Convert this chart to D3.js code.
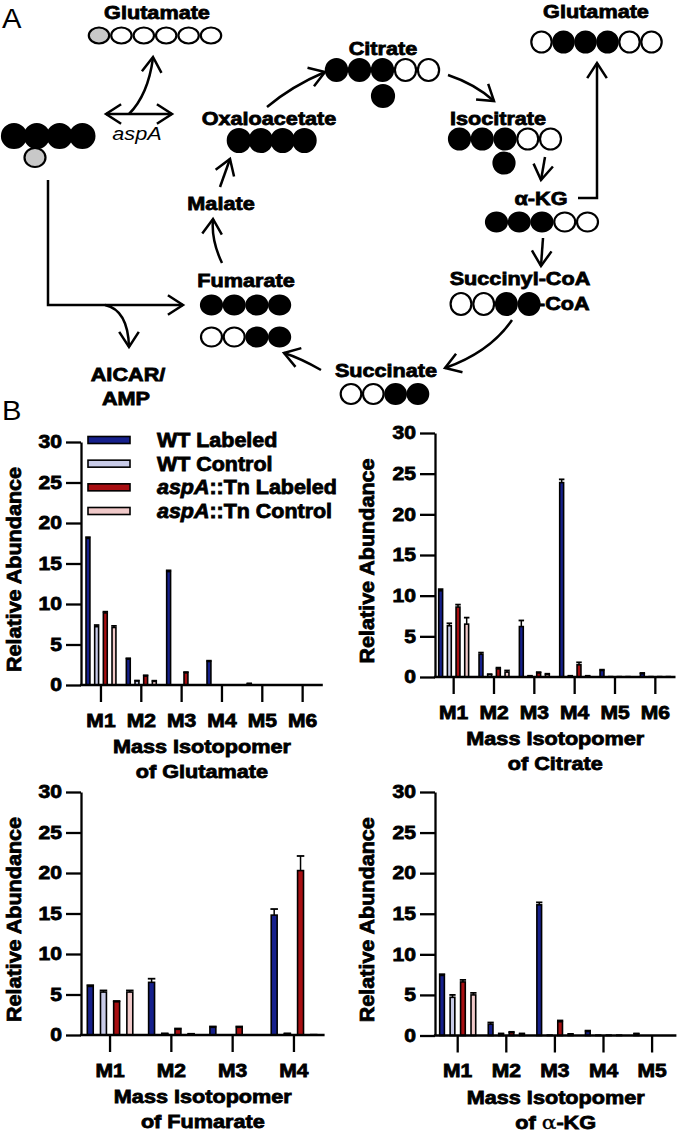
<!DOCTYPE html>
<html><head><meta charset="utf-8">
<script src="https://cdn.jsdelivr.net/npm/d3@7/dist/d3.min.js"></script>
<style>
body{margin:0;background:#fff;}
svg text{font-family:"Liberation Sans",Arial,sans-serif;}
</style></head><body>
<svg id="fig" width="677" height="1146"></svg>
<script>
// ---------------- DATA ----------------
const seriesNames = ["WT Labeled","WT Control","aspA::Tn Labeled","aspA::Tn Control"];
const seriesColors = ["#16208c","#c8cbe8","#a80f12","#f0c9c9"];
const yTicks = [0,5,10,15,20,25,30];

const glutamateIsotopomers = ["M1","M2","M3","M4","M5","M6"];
const glutamateWTLabeled   = [18.1, 3.2, 14.0, 2.9, 0.15, 0];
const glutamateWTControl   = [7.2, 0.5, 0, 0, 0, 0];
const glutamateAspLabeled  = [8.9, 1.1, 1.5, 0, 0, 0];
const glutamateAspControl  = [7.1, 0.45, 0, 0, 0, 0];
const glutamateWTLabeledErr  = [0.15, 0.1, 0.15, 0.1, 0.05, 0];
const glutamateWTControlErr  = [0.2, 0.05, 0, 0, 0, 0];
const glutamateAspLabeledErr = [0.15, 0.1, 0.1, 0, 0, 0];
const glutamateAspControlErr = [0.2, 0.08, 0, 0, 0, 0];

const citrateIsotopomers = ["M1","M2","M3","M4","M5","M6"];
const citrateWTLabeled   = [10.6, 2.8, 6.2, 23.9, 0.8, 0.4];
const citrateWTControl   = [6.3, 0.3, 0.1, 0.1, 0.05, 0.05];
const citrateAspLabeled  = [8.6, 1.0, 0.5, 1.5, 0.05, 0.05];
const citrateAspControl  = [6.5, 0.6, 0.3, 0.1, 0.05, 0.05];
const citrateWTLabeledErr  = [0.2, 0.2, 0.75, 0.4, 0.1, 0.1];
const citrateWTControlErr  = [0.3, 0.05, 0.05, 0.05, 0, 0];
const citrateAspLabeledErr = [0.3, 0.15, 0.1, 0.3, 0, 0];
const citrateAspControlErr = [0.8, 0.2, 0.1, 0.05, 0, 0];

const fumarateIsotopomers = ["M1","M2","M3","M4"];
const fumarateWTLabeled   = [6.0, 6.5, 0.95, 14.8];
const fumarateWTControl   = [5.3, 0.15, 0, 0.15];
const fumarateAspLabeled  = [4.1, 0.7, 0.95, 20.3];
const fumarateAspControl  = [5.3, 0.1, 0, 0.05];
const fumarateWTLabeledErr  = [0.15, 0.45, 0.1, 0.75];
const fumarateWTControlErr  = [0.2, 0.05, 0, 0.05];
const fumarateAspLabeledErr = [0.1, 0.1, 0.1, 1.8];
const fumarateAspControlErr = [0.2, 0.05, 0, 0];

const akgIsotopomers = ["M1","M2","M3","M4","M5"];
const akgWTLabeled   = [7.4, 1.4, 16.1, 0.5, 0.2];
const akgWTControl   = [4.7, 0.2, 0.05, 0.05, 0];
const akgAspLabeled  = [6.6, 0.35, 1.7, 0.05, 0];
const akgAspControl  = [5.0, 0.2, 0.15, 0.05, 0];
const akgWTLabeledErr  = [0.15, 0.2, 0.3, 0.1, 0.05];
const akgWTControlErr  = [0.3, 0.05, 0, 0, 0];
const akgAspLabeledErr = [0.25, 0.1, 0.15, 0, 0];
const akgAspControlErr = [0.25, 0.05, 0.05, 0, 0];

// ---------------- HELPERS ----------------
const svg = d3.select("#fig");
const SX = 1.17;
const BOLD_STROKE = 0.8;

function label(g, str, x, y, o = {}) {
  const bold = (o.weight || "bold") === "bold";
  const t = g.append("text")
    .attr("transform", `translate(${x},${y}) scale(${o.sx || SX},1)`)
    .attr("text-anchor", o.anchor || "middle")
    .attr("font-size", o.size || 18.5)
    .attr("font-weight", o.weight || "bold")
    .attr("fill", "#000");
  if (bold) t.attr("stroke", "#000").attr("stroke-width", BOLD_STROKE);
  if (o.italic) t.attr("font-style", "italic");
  if (Array.isArray(str)) {
    str.forEach(p => {
      const ts = t.append("tspan").text(p.t);
      if (p.italic) ts.attr("font-style", "italic");
      if (p.family) ts.attr("font-family", p.family);
      if (p.weight) ts.attr("font-weight", p.weight).attr("stroke-width", 0.3);
    });
  } else t.text(str);
  return t;
}

function head(g, tx, ty, dx, dy, L = 18, ang = 33) {
  const a = Math.atan2(dy, dx), r = ang * Math.PI / 180;
  const p1 = [tx - L * Math.cos(a - r), ty - L * Math.sin(a - r)];
  const p2 = [tx - L * Math.cos(a + r), ty - L * Math.sin(a + r)];
  g.append("path").attr("d", `M${p1}L${tx},${ty}L${p2}`)
    .attr("fill", "none").attr("stroke", "#000").attr("stroke-width", 2.5)
    .attr("stroke-linejoin", "miter");
}

function arrow(g, d, tip, from, both) {
  g.append("path").attr("d", d).attr("fill", "none")
    .attr("stroke", "#000").attr("stroke-width", 2.5);
  head(g, tip[0], tip[1], tip[0] - from[0], tip[1] - from[1]);
  if (both) head(g, both.tip[0], both.tip[1], both.tip[0] - both.from[0], both.tip[1] - both.from[1]);
}

// ---------------- PANEL A ----------------
const A = svg.append("g");
label(A, "A", 2, 28, {anchor: "start", size: 27, weight: "normal", sx: 1.08});
label(A, "B", 2, 420, {anchor: "start", size: 27, weight: "normal", sx: 1.08});

const fills = {b: "#000", w: "#fff", g: "#c8c8c8"};
const rows = [
  {x: 99,    y: 35.5, dx: 22.4, rx: 10.2, ry: 8.0,  p: "gwwwww"},
  {x: 14,    y: 136,  dx: 22.8, rx: 12,   ry: 12,   p: "bbbb"},
  {x: 35,    y: 157.5,dx: 0,    rx: 10.5, ry: 9.5,  p: "g"},
  {x: 239,   y: 140.5,dx: 21.8, rx: 11.2, ry: 11.5, p: "bbbb"},
  {x: 336.5, y: 70,   dx: 23,   rx: 10.6, ry: 11,   p: "bbbww"},
  {x: 383,   y: 96,   dx: 0,    rx: 11,   ry: 11,   p: "b"},
  {x: 459.5, y: 139,  dx: 22.75,rx: 10.5, ry: 10.5, p: "bbbww"},
  {x: 504,   y: 163,  dx: 0,    rx: 10.5, ry: 10.5, p: "b"},
  {x: 541.5, y: 42,   dx: 22,   rx: 10.2, ry: 10.5, p: "wbbbww"},
  {x: 496.5, y: 222,  dx: 22.75,rx: 10.5, ry: 9.5,  p: "bbbww"},
  {x: 461,   y: 304,  dx: 22.7, rx: 10.4, ry: 11,   p: "wwbb"},
  {x: 211.5, y: 305,  dx: 22.7, rx: 10.5, ry: 9.5,  p: "bbbb"},
  {x: 211.5, y: 337,  dx: 22.7, rx: 10.5, ry: 9.5,  p: "wwbb"},
  {x: 351,   y: 394,  dx: 22.3, rx: 10.3, ry: 10,   p: "wwbb"}
];
rows.forEach(r => {
  A.selectAll(null).data(r.p.split("")).join("ellipse")
    .attr("cx", (c, i) => r.x + i * r.dx).attr("cy", r.y)
    .attr("rx", r.rx).attr("ry", r.ry)
    .attr("fill", c => fills[c]).attr("stroke", "#000").attr("stroke-width", 2.2);
});

// diagram texts
label(A, "Glutamate", 157, 19);
label(A, "Glutamate", 596, 18);
label(A, "aspA", 137, 140, {weight: "normal", italic: true});
label(A, "Oxaloacetate", 269, 125);
label(A, "Citrate", 383, 55);
label(A, "Isocitrate", 498, 125);
label(A, "α-KG", 541, 205);
label(A, "Succinyl-CoA", 520, 285);
label(A, "-CoA", 538, 310, {anchor: "start"});
label(A, "Malate", 221, 210);
label(A, "Fumarate", 246, 287);
label(A, "Succinate", 386, 377);
label(A, "AICAR/", 128, 381);
label(A, "AMP", 126, 405);

// arrows
arrow(A, "M106,114L172,114", [172,114], [160,114], {tip: [106,114], from: [118,114]});
arrow(A, "M129,114Q148,95 153,58", [153,57], [151,80]);
arrow(A, "M267,107Q292,86 325,72", [325,72], [305,79]);
arrow(A, "M448,75Q475,84 494,101", [494,101], [480,90]);
arrow(A, "M545,157L541,180", [541,180], [544,160]);
arrow(A, "M578,198L597,198L597,63", [597,63], [597,90]);
arrow(A, "M543,238L541,266", [541,266], [542,245]);
arrow(A, "M512,320Q490,352 445,368", [445,368], [468,360]);
arrow(A, "M321,370Q300,358 284,353", [284,353], [300,358]);
arrow(A, "M222,263Q211,240 213,219", [213,219], [212,235]);
arrow(A, "M220,187L230,159", [230,159], [226,170]);
arrow(A, "M48,180L48,305L183,305", [183,305], [160,305]);
arrow(A, "M105,305Q128,310 129,347", [129,347], [129,330]);

// ---------------- PANEL B CHARTS ----------------
function boldText(sel, size) {
  sel.attr("font-family", null).attr("font-size", size).attr("font-weight", "bold")
    .attr("fill", "#000").attr("stroke", "#000").attr("stroke-width", BOLD_STROKE);
}

function drawChart(c) {
  const g = svg.append("g");
  const x = d3.scaleBand().domain(c.cats).range([c.xStart, c.xEnd]).padding(0);
  const y = d3.scaleLinear().domain([0, 30]).range([c.yBottom, c.yTop]);
  const step = x.bandwidth() * 0.215;
  const xi = d3.scaleBand().domain(seriesNames).range([-2 * step, 2 * step])
    .paddingInner(0.55).paddingOuter(0.275);

  const recs = [];
  c.values.forEach((vals, si) => vals.forEach((v, ci) =>
    recs.push({s: seriesNames[si], si, cat: c.cats[ci], v, e: c.errors[si][ci]})));

  const bars = recs.filter(d => d.v > 0);
  g.selectAll("rect.bar").data(bars).join("rect").attr("class", "bar")
    .attr("x", d => x(d.cat) + x.bandwidth() / 2 + xi(d.s))
    .attr("width", xi.bandwidth())
    .attr("y", d => y(d.v)).attr("height", d => y(0) - y(d.v))
    .attr("fill", d => seriesColors[d.si]).attr("stroke", "#000").attr("stroke-width", 1.6);

  const errs = recs.filter(d => d.v > 0 && d.e > 0);
  const cxOf = d => x(d.cat) + x.bandwidth() / 2 + xi(d.s) + xi.bandwidth() / 2;
  g.selectAll("line.eb").data(errs).join("line").attr("class", "eb")
    .attr("x1", cxOf).attr("x2", cxOf)
    .attr("y1", d => y(d.v)).attr("y2", d => y(d.v + d.e))
    .attr("stroke", "#000").attr("stroke-width", 1.5);
  g.selectAll("line.cap").data(errs).join("line").attr("class", "cap")
    .attr("x1", d => cxOf(d) - xi.bandwidth() / 2 - 0.8).attr("x2", d => cxOf(d) + xi.bandwidth() / 2 + 0.8)
    .attr("y1", d => y(d.v + d.e)).attr("y2", d => y(d.v + d.e))
    .attr("stroke", "#000").attr("stroke-width", 1.8);

  // y axis
  const ya = g.append("g").attr("transform", `translate(${c.x0},0)`)
    .call(d3.axisLeft(y).tickValues(yTicks).tickSize(15).tickSizeOuter(0).tickPadding(4));
  ya.select(".domain").attr("stroke-width", 2.3);
  ya.selectAll(".tick line").attr("stroke-width", 2.3);
  ya.selectAll(".tick text").attr("x", null)
    .attr("transform", `translate(-19,0) scale(${SX},1)`)
    .call(boldText, 18);

  // x axis
  const xa = g.append("g").attr("transform", `translate(0,${c.yBottom})`)
    .call(d3.axisBottom(x).tickSize(17).tickSizeOuter(0).tickPadding(12));
  xa.select(".domain").remove();
  xa.append("line").attr("x1", c.x0 - 1.1).attr("x2", c.xEnd).attr("y1", 0).attr("y2", 0)
    .attr("stroke", "#000").attr("stroke-width", 2.3);
  xa.selectAll(".tick line").attr("stroke-width", 2.3);
  xa.selectAll(".tick text").attr("transform", `scale(${SX},1)`).call(boldText, 18);

  // y title
  g.append("text")
    .attr("transform", `translate(${c.yLabelX},${(c.yTop + c.yBottom) / 2 + 6}) rotate(-90)`)
    .attr("text-anchor", "middle")
    .attr("textLength", 205).attr("lengthAdjust", "spacingAndGlyphs")
    .text("Relative Abundance").call(boldText, 21);

  // x title
  const cx = (c.x0 + c.xEnd) / 2;
  label(g, "Mass Isotopomer", cx, c.yBottom + 68);
  label(g, c.title2, cx, c.yBottom + 93);

  if (c.legend) {
    const lg = g.append("g");
    const ly = d3.scalePoint().domain(seriesNames).range([440, 511]);
    lg.selectAll("rect").data(seriesNames).join("rect")
      .attr("x", 88).attr("width", 42).attr("y", s => ly(s) - 3.5).attr("height", 7)
      .attr("fill", (s, i) => seriesColors[i]).attr("stroke", "#000").attr("stroke-width", 1.6);
    seriesNames.forEach(s => {
      const parts = s.startsWith("aspA")
        ? [{t: "aspA", italic: true}, {t: s.slice(4)}]
        : [{t: s}];
      label(lg, parts, 157, ly(s) + 7, {anchor: "start", size: 19.5, sx: 1.1});
    });
  }
}

drawChart({cats: glutamateIsotopomers,
  values: [glutamateWTLabeled, glutamateWTControl, glutamateAspLabeled, glutamateAspControl],
  errors: [glutamateWTLabeledErr, glutamateWTControlErr, glutamateAspLabeledErr, glutamateAspControlErr],
  x0: 81, xStart: 80.8, xEnd: 322.8, yTop: 442, yBottom: 685, yLabelX: 21,
  title2: "of Glutamate", legend: true});

drawChart({cats: citrateIsotopomers,
  values: [citrateWTLabeled, citrateWTControl, citrateAspLabeled, citrateAspControl],
  errors: [citrateWTLabeledErr, citrateWTControlErr, citrateAspLabeledErr, citrateAspControlErr],
  x0: 435, xStart: 433.5, xEnd: 675.5, yTop: 433, yBottom: 677, yLabelX: 374,
  title2: "of Citrate"});

drawChart({cats: fumarateIsotopomers,
  values: [fumarateWTLabeled, fumarateWTControl, fumarateAspLabeled, fumarateAspControl],
  errors: [fumarateWTLabeledErr, fumarateWTControlErr, fumarateAspLabeledErr, fumarateAspControlErr],
  x0: 81, xStart: 79.4, xEnd: 324.6, yTop: 792, yBottom: 1035, yLabelX: 21,
  title2: "of Fumarate"});

drawChart({cats: akgIsotopomers,
  values: [akgWTLabeled, akgWTControl, akgAspLabeled, akgAspControl],
  errors: [akgWTLabeledErr, akgWTControlErr, akgAspLabeledErr, akgAspControlErr],
  x0: 435, xStart: 433.4, xEnd: 676.4, yTop: 792, yBottom: 1035.5, yLabelX: 374,
  title2: [{t: "of "}, {t: "α", family: "DejaVu Serif", weight: "normal"}, {t: "-KG"}]});
</script>
</body></html>
